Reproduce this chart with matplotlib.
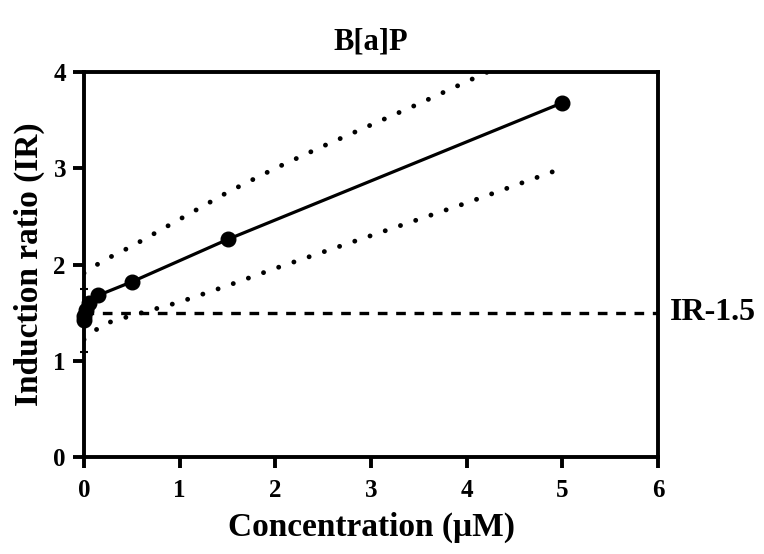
import matplotlib
matplotlib.use("Agg")
import matplotlib.pyplot as plt

# Data
conc = [0.0016, 0.005, 0.016, 0.05, 0.15, 0.5, 1.5, 5.0]
ir = [1.42, 1.47, 1.53, 1.60, 1.68, 1.82, 2.26, 3.68]
first_err = 0.33

band_x = [0.0, 0.2, 0.5, 1.0, 1.5, 2.0, 2.5, 3.0, 3.5, 4.0, 4.5, 5.0]
band_upper = [1.91, 2.04, 2.19, 2.47, 2.75, 3.00, 3.23, 3.45, 3.67, 3.90, 4.13, 4.36]
band_lower = [1.22, 1.38, 1.47, 1.61, 1.78, 1.96, 2.13, 2.30, 2.47, 2.64, 2.82, 3.00]

threshold = 1.5
threshold_label = "IR-1.5"

xticks = [0, 1, 2, 3, 4, 5, 6]
yticks = [0, 1, 2, 3, 4]

title = "B[a]P"
xlabel = "Concentration (\u03bcM)"
ylabel = "Induction ratio (IR)"

plt.rcParams['font.family'] = ['Liberation Serif', 'DejaVu Serif']
plt.rcParams['font.weight'] = 'bold'

fig = plt.figure(figsize=(7.64, 5.54), dpi=100)
ax = fig.add_axes([84/764, 1 - 457/554, (658-84)/764, (457-72)/554])

ax.plot(band_x, band_upper, color='black', lw=3.5, linestyle=(0, (0.01, 3.3)),
        dash_capstyle='round', clip_on=True)
ax.plot(band_x, band_lower, color='black', lw=3.5, linestyle=(0, (0.01, 3.3)),
        dash_capstyle='round', clip_on=True)

ax.axhline(threshold, color='black', lw=2.4, linestyle=(0, (2.9, 2.6)))

ax.errorbar(conc[:1], ir[:1], yerr=first_err, fmt='none', ecolor='black',
            elinewidth=1.5, capsize=3, capthick=1.5, clip_on=False)
ax.plot(conc, ir, color='black', lw=2.3, marker='o', markersize=10.5, clip_on=False, zorder=5)

ax.set_xlim(0, 6)
ax.set_ylim(0, 4)
ax.set_xticks(xticks)
ax.set_yticks(yticks)
for s in ax.spines.values():
    s.set_linewidth(2.8)
ax.tick_params(axis='both', which='major', direction='out', length=8, width=2.8,
               labelsize=18, pad=5)
ax.tick_params(axis='x', pad=8)
for lab in ax.get_xticklabels() + ax.get_yticklabels():
    lab.set_fontweight('bold')

ax.set_title(title, fontsize=22, fontweight='bold', pad=16)
ax.set_xlabel(xlabel, fontsize=24, fontweight='bold', labelpad=7)
ax.set_ylabel(ylabel, fontsize=24, fontweight='bold', labelpad=6)

ax.text(1.02, threshold, threshold_label, transform=ax.get_yaxis_transform(),
        fontsize=23, fontweight='bold', va='center', ha='left')

fig.savefig("out.png", dpi=100)
